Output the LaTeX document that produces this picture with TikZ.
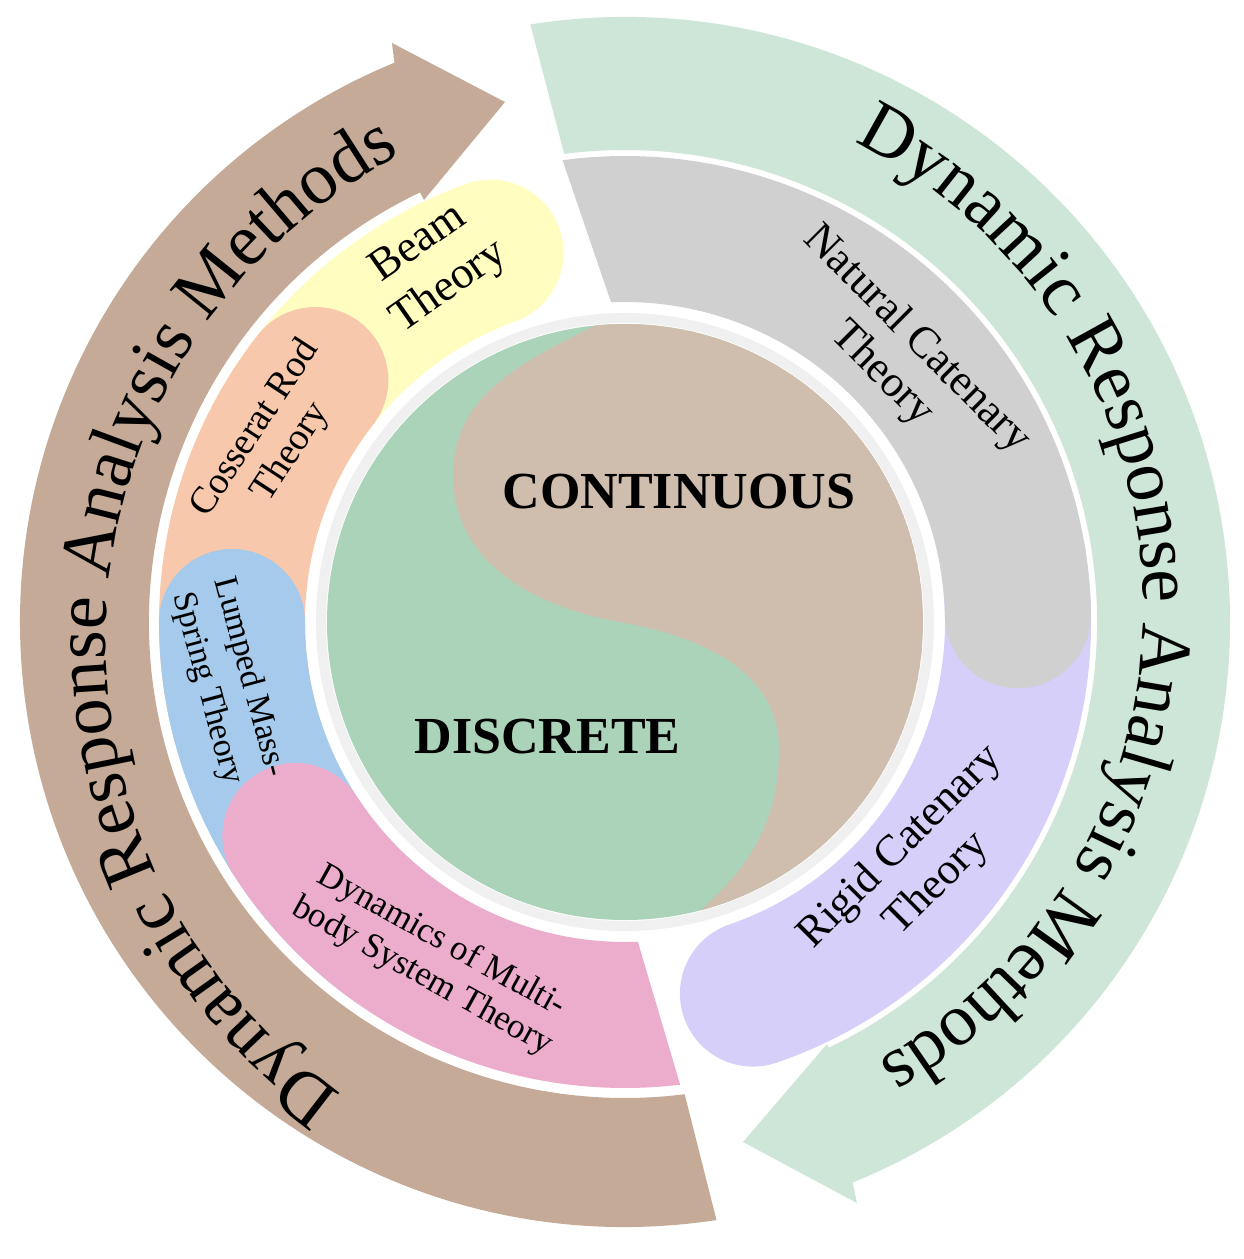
\documentclass[tikz,border=0pt]{standalone}
\usepackage{fontspec}
\setmainfont{Liberation Serif}
\usetikzlibrary{decorations.text}
\definecolor{brownarrow}{HTML}{C4AA97}
\definecolor{greenarrow}{HTML}{CEE6D7}
\definecolor{contbrown}{HTML}{CFBEAD}
\definecolor{discgreen}{HTML}{ABD3BA}
\definecolor{greyseg}{HTML}{D0D0D0}
\definecolor{lavseg}{HTML}{D5CFFA}
\definecolor{pinkseg}{HTML}{ECACCC}
\definecolor{blueseg}{HTML}{A6CAEC}
\definecolor{peachseg}{HTML}{F7C8AB}
\definecolor{yellowseg}{HTML}{FFFDC0}
\newcommand\bigarctext{\fontsize{74}{80}\selectfont}
\begin{document}
\begin{tikzpicture}[x=1pt,y=1pt,
  lbl/.style={align=center, text=black, inner sep=0pt},
  core/.style={text=black, inner sep=0pt, font=\bfseries\fontsize{52}{56}\selectfont}]
\useasboundingbox (-625,-637) rectangle (619,622);
\fill[white] (-625,-637) rectangle (619,622);

% outer arrows
\fill[brownarrow] (-81.3:605) arc[start angle=-81.3, end angle=-247.6, radius=605]
  -- (-233,579) -- (-120,520) -- (-201,422) -- (115.5:476)
  arc[start angle=115.5, end angle=277.2, radius=476] -- cycle;
\fill[greenarrow] (99:605) arc[start angle=99, end angle=-67.9, radius=605]
  -- (232,-581) -- (118,-520) -- (202,-422) -- (-64.4:472)
  arc[start angle=-64.4, end angle=97.4, radius=472] -- cycle;

% middle band segments
\fill[yellowseg] (155:466) arc[start angle=155, end angle=110, radius=466]
  arc[start angle=110, end angle=-70, radius=73]
  arc[start angle=110, end angle=155, radius=320] -- cycle;
\fill[peachseg] (195:466) arc[start angle=195, end angle=142, radius=466]
  arc[start angle=142, end angle=-38, radius=73]
  arc[start angle=142, end angle=195, radius=320] -- cycle;
\fill[blueseg] (235:466) arc[start angle=235, end angle=180, radius=466]
  arc[start angle=180, end angle=0, radius=73]
  arc[start angle=180, end angle=235, radius=320] -- cycle;
\fill[pinkseg] (276.8:466) arc[start angle=276.8, end angle=213, radius=466]
  arc[start angle=213, end angle=33, radius=73]
  arc[start angle=213, end angle=272.3, radius=320] -- cycle;
\fill[lavseg] (10:466) arc[start angle=10, end angle=-71, radius=466]
  arc[start angle=-71, end angle=-251, radius=73]
  arc[start angle=-71, end angle=10, radius=320] -- cycle;
\fill[greyseg] (97.7:466) arc[start angle=97.7, end angle=1, radius=466]
  arc[start angle=1, end angle=-179, radius=73]
  arc[start angle=1, end angle=92.5, radius=320] -- cycle;

% ring
\fill[white] (0,0) circle (319);
\draw[black!6, line width=10] (0,0) circle (304);

% inner yin-yang circle
\begin{scope}
  \clip (0,0) circle (298);
  \fill[discgreen] (0,0) circle (298);
  \fill[contbrown] (-29,297) to[out=207,in=90] (-172,147) to[out=270,in=170] (-5,0)
    to[out=-10,in=90] (154,-127) to[out=270,in=42] (75,-289)
    -- (90,-400) -- (400,-400) -- (400,400) -- (-40,400) -- cycle;
\end{scope}
\node[core] (cont) at (54,130) {CONTINUOUS};
\node[core] (disc) at (-77.5,-114.5) {DISCRETE};

% middle band labels
\node[lbl, font=\fontsize{44}{49}\selectfont, rotate=-45] (natural) at (274,265) {Natural Catenary\\Theory};
\node[lbl, font=\fontsize{44}{52}\selectfont, rotate=45] (rigid) at (294,-244) {Rigid Catenary\\Theory};
\node[lbl, font=\fontsize{35}{40}\selectfont, rotate=-29] (multibody) at (-193,-337) {Dynamics of Multi-\\body System Theory};
\node[lbl, font=\fontsize{34}{44}\selectfont, rotate=-75] (lumped) at (-397,-61) {Lumped Mass-\\Spring Theory};
\node[lbl, font=\fontsize{38}{43}\selectfont, rotate=56.7] (cosserat) at (-351.5,181.5) {Cosserat Rod\\Theory};
\node[lbl, font=\fontsize{45}{53}\selectfont, rotate=35] (beam) at (-190.5,356) {Beam\\Theory};

% curved outer titles
\begin{scope}[shift={(32,-20)}]
  \path[decorate, decoration={text along path, text align=center,
    text={|\bigarctext|Dynamic Response Analysis Methods}}]
    (246.4:551) arc[start angle=246.4, end angle=106.4, radius=551];
\end{scope}
\begin{scope}[shift={(-2,14)}]
  \path[decorate, decoration={text along path, text align=center,
    text={|\bigarctext|Dynamic Response Analysis Methods}}]
    (71.5:520) arc[start angle=71.5, end angle=-68.5, radius=520];
\end{scope}
\end{tikzpicture}
\end{document}
